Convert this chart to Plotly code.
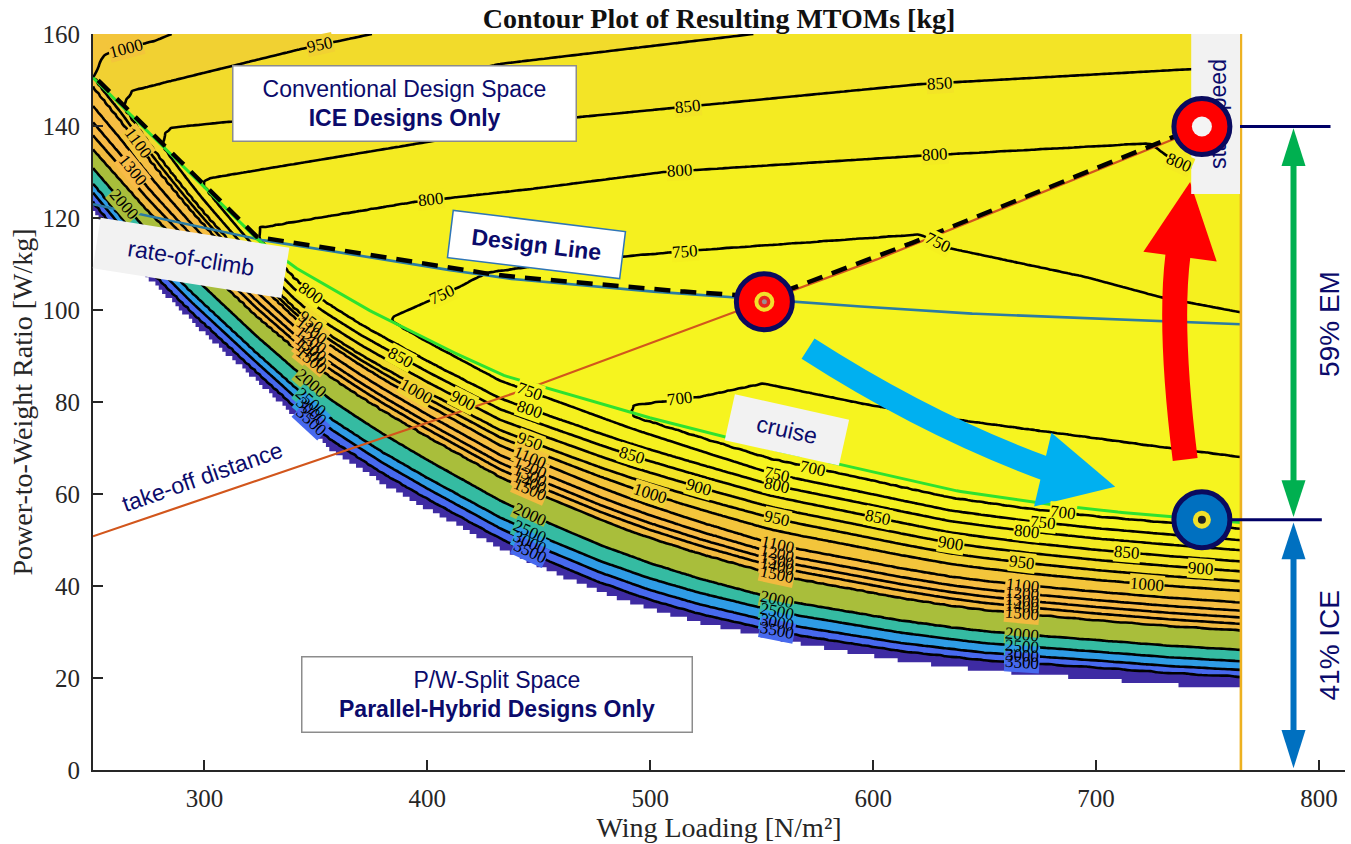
import numpy as np
import plotly.graph_objects as go

# ---------------- values ----------------
mtom_levels = [700, 750, 800, 850, 900, 950, 1000, 1100, 1200, 1300, 1400, 1500, 2000, 2500, 3000, 3500]
x_ticks = [300, 400, 500, 600, 700, 800]
y_ticks = [0, 20, 40, 60, 80, 100, 120, 140, 160]

# constraint lines (wing loading [N/m2] -> power-to-weight [W/kg])
cruise_ws = [244, 250, 275, 300, 323.6, 339.8, 370, 401.3, 432.7, 490, 550.7, 600, 634.6, 670, 701.9, 735, 765]
cruise_pw = [153.4, 150.5, 138.6, 126.7, 115.4, 109.5, 100.9, 93.2, 86.0, 77.8, 70.2, 64.8, 60.9, 58.3, 56.4, 55.0, 53.8]
climb_ws = [250, 290, 323.5, 380, 432.7, 485, 537.3, 634.6, 765]
climb_pw = [123.0, 118.8, 115.4, 110.9, 107.0, 104.6, 102.7, 99.4, 96.9]
takeoff_ws = [250, 446.1, 601.7, 734.6, 756]
takeoff_pw = [50.8, 83.1, 111.0, 137.1, 141.3]
stall_ws = 765

# lower edge of the evaluated design space
edge_ws = [250, 274, 294, 316, 334, 356, 380, 400, 432.7, 455, 477.5, 500, 522, 545, 567, 612, 650, 700, 733, 765]
edge_pw = [121.9, 107.5, 97.8, 88.0, 80.0, 70.0, 62.5, 57.0, 48.5, 43.5, 39.0, 35.3, 32.4, 30.0, 27.8, 24.2, 22.0, 20.2, 19.0, 18.2]

# MTOM found on the cruise line (minimum of each column)
valley_ws = [250, 263.5, 281, 299, 324.1, 383.3, 490.3, 550, 600, 700, 765]
valley_mtom = [1000, 950, 900, 850, 800, 750, 700, 682, 679, 677, 677]

# contours below the cruise line: share of the distance edge -> cruise line, read at three columns
frac_ws = [347, 555, 703]
frac_ref_mtom = [781, 682, 677]
frac_left = [1.06, 1.03, 0.894, 0.831, 0.769, 0.706, 0.680, 0.654, 0.591, 0.540, 0.500, 0.457, 0.311, 0.189, 0.126, 0.063]
frac_mid = [0.945, 0.870, 0.810, 0.750, 0.690, 0.633, 0.570, 0.495, 0.448, 0.410, 0.377, 0.337, 0.205, 0.140, 0.080, 0.035]
frac_right = [0.961, 0.892, 0.831, 0.762, 0.702, 0.641, 0.583, 0.511, 0.461, 0.420, 0.381, 0.343, 0.221, 0.152, 0.099, 0.061]

# contours above the cruise line
up700_ws = [490.3, 492.5, 522.4, 550.7, 597.3, 634.6, 728.8, 765]
up700_pw = [78.3, 79.4, 81.2, 84.1, 79.5, 76.4, 70.3, 68.1]
up750_ws = [383.3, 399.9, 413.4, 426.8, 446.1, 487.9, 525.5, 621.1, 633.2, 696.1, 728.8, 765]
up750_pw = [98.4, 101.9, 104.9, 108.2, 109.5, 111.7, 113.2, 116.5, 113.6, 107.1, 102.8, 99.5]
up800_ws = [324.1, 325.0, 393.6, 446.1, 505.8, 619.8, 724.3, 735.5, 765]
up800_pw = [116.5, 118.0, 123.5, 126.3, 130.0, 133.5, 136.3, 132.3, 127.3]
up850_ws = [299.0, 301.2, 467.2, 621.1, 736.4, 765]
up850_pw = [127.5, 128.6, 141.9, 149.1, 152.2, 152.8]
up900_ws = [281.0, 283.2, 312.9, 432.7, 555.0]
up900_pw = [136.5, 139.6, 141.0, 153.5, 160.5]
up950_ws = [263.5, 266.6, 343.0, 380.0]
up950_pw = [144.3, 147.6, 156.7, 160.5]
up1000_ws = [250.0, 255.4, 277.9, 288.0]
up1000_pw = [150.5, 155.6, 158.5, 160.5]

# where the contour labels sit (level, wing loading)
label_up_level = [1000, 950, 850, 850, 800, 800, 800, 800, 750, 750, 750, 700]
label_up_ws = [265, 352, 517, 630, 401.5, 513.5, 627.8, 737, 406.6, 515.8, 629, 513.5]
label_lo_level = ([800, 950, 1100, 1200, 1300, 1400, 1500, 2000, 2500, 3000, 3500]
                  + [750, 800, 950, 1100, 1200, 1300, 1400, 1500, 2000, 2500, 3000, 3500]
                  + [750, 800, 950, 1100, 1200, 1300, 1400, 1500, 2000, 2500, 3000, 3500]
                  + [950, 1100, 1200, 1300, 1400, 1500, 2000, 2500, 3000, 3500, 800, 750, 700]
                  + [850, 1000, 900, 850, 1000, 900, 700, 850, 900, 850, 1000, 900, 1100, 1300, 2000])
label_lo_ws = ([348] * 11 + [446] * 12 + [557] * 12 + [667] * 10 + [669, 676, 685]
               + [388, 395, 416, 492, 500, 522, 573, 602, 635, 714, 723, 747, 270, 268, 264])

design_point = (551.2, 101.8)
stall_point = (747.5, 139.9)
ice_point = (747.5, 54.4)

# fill colour of each band: below 700, then above each level
band_colors = ["#F6F41F", "#F6F41F", "#F5F01F", "#F4EB22", "#F3E426", "#F2DB2B", "#F1D132",
               "#F3C53B", "#F6BE42", "#F8BB46", "#F7BA45", "#F1BA3F", "#A9BE3B", "#35BBA2",
               "#2F9CE5", "#4769EE", "#3E2BA3"]

NAVY = "#0B0B6B"
SERIF = "Liberation Serif"
SANS = "Liberation Sans"

# ---------------- axes geometry ----------------
X0, X1 = 250, 811.7
Y0, Y1 = 0, 160
W, H = 1351, 844
ML, MR, MT, MB = 93, 6, 34, 74
SX = (W - ML - MR) / (X1 - X0)
SY = (H - MT - MB) / (Y1 - Y0)

# ---------------- build the MTOM field ----------------
upper = [(700, up700_ws, up700_pw), (750, up750_ws, up750_pw), (800, up800_ws, up800_pw),
         (850, up850_ws, up850_pw), (900, up900_ws, up900_pw), (950, up950_ws, up950_pw),
         (1000, up1000_ws, up1000_pw)]
i1500 = mtom_levels.index(1500)


def column(x):
    g = float(np.interp(x, cruise_ws, cruise_pw))
    b = float(np.interp(x, edge_ws, edge_pw))
    m = float(np.interp(x, valley_ws, valley_mtom))
    tA = [float(np.interp(x, frac_ws, [a, c, d])) for a, c, d in zip(frac_left, frac_mid, frac_right)]
    mref = float(np.interp(x, frac_ws, frac_ref_mtom))
    t15 = tA[i1500]
    if m > mref:
        zs = [mref] + [L for L in mtom_levels if L > mref]
        ts = [1.0] + [t for L, t in zip(mtom_levels, tA) if L > mref]
        tm = float(np.interp(m, zs, ts))
        tA = [t if (L >= 1500) else t15 + (t - t15) * (1 - t15) / (tm - t15)
              for L, t in zip(mtom_levels, tA)]
    kp, kz = [b], [4000.0]
    for L, t in sorted(zip(mtom_levels, tA), key=lambda q: -q[0]):
        if L > m + 0.5:
            p = b + t * (g - b)
            if kp[-1] + 1e-3 < p < g - 1e-3:
                kp.append(p)
                kz.append(float(L))
    kp.append(g)
    kz.append(m)
    gi = len(kp) - 1
    n_up = 0
    for L, xs, ys in upper:
        if L > m + 0.5 and xs[0] <= x <= xs[-1]:
            p = float(np.interp(x, xs, ys))
            if p > kp[-1] + 1e-3:
                kp.append(p)
                kz.append(float(L))
                n_up += 1
    slope = (kz[-1] - kz[-2]) / (kp[-1] - kp[-2]) if n_up >= 1 else 6.0
    kz.append(kz[-1] + slope * (200 - kp[-1]))
    kp.append(200.0)
    return kp, kz, gi


ws_grid = np.linspace(250, 765, 207)
pw_grid = np.arange(0, 160.001, 0.5)
Z = np.empty((len(pw_grid), len(ws_grid)))
for j, x in enumerate(ws_grid):
    kp, kz, gi = column(x)
    Z[:, j] = np.interp(pw_grid, kp, kz)

idx_levels = [600] + mtom_levels + [5000]
ZI = np.interp(Z, idx_levels, list(range(-1, len(mtom_levels) + 1))).astype(np.float32)

# stepped colour scale (band k spans index k-1..k)
nb = len(band_colors)
cs = []
for k, col in enumerate(band_colors):
    cs.append([k / nb, col])
    cs.append([(k + 1) / nb, col])

fig = go.Figure()
fig.add_trace(go.Contour(
    x=ws_grid, y=pw_grid, z=ZI, autocontour=False,
    contours=dict(start=0, end=len(mtom_levels) - 1, size=1, coloring="fill", showlines=True),
    line=dict(width=2.6, color="black"), colorscale=cs, zmin=-1, zmax=len(mtom_levels), zauto=False,
    showscale=False, hoverinfo="skip"))

# white mask under the evaluated space (stepped like the coarse grid)
mx = np.arange(248, 766.01, 1.5)
mq = np.floor(np.interp(mx, edge_ws, edge_pw) / 0.9) * 0.9
fig.add_trace(go.Scatter(
    x=list(mx) + [766, 248], y=list(mq) + [-3, -3], mode="lines", fill="toself",
    fillcolor="white", line=dict(width=0, shape="hv"), hoverinfo="skip"))

# constraint lines
fig.add_trace(go.Scatter(x=takeoff_ws, y=takeoff_pw, mode="lines",
                         line=dict(color="#D2561C", width=2.2), hoverinfo="skip"))
cx = np.linspace(250, 765, 300)
fig.add_trace(go.Scatter(x=cx, y=np.interp(cx, climb_ws, climb_pw), mode="lines",
                         line=dict(color="#2B7BA3", width=2.6), hoverinfo="skip"))
fig.add_trace(go.Scatter(x=cx, y=np.interp(cx, cruise_ws, cruise_pw), mode="lines",
                         line=dict(color="#2FE22F", width=3), hoverinfo="skip"))
fig.add_trace(go.Scatter(x=[stall_ws, stall_ws], y=[0, 160], mode="lines",
                         line=dict(color="#EDB120", width=2.6), hoverinfo="skip"))

# design line = upper envelope of the constraints
dxs = np.linspace(244, stall_point[0], 400)
env = np.maximum.reduce([np.interp(dxs, cruise_ws, cruise_pw),
                         np.interp(dxs, climb_ws, climb_pw),
                         np.interp(dxs, takeoff_ws, takeoff_pw)])
fig.add_trace(go.Scatter(x=dxs, y=env + 0.5, mode="lines", cliponaxis=False,
                         line=dict(color="black", width=4.5, dash="16px,10px"), hoverinfo="skip"))


# ---------------- contour labels ----------------
def level_pw(L, x, fam):
    kp, kz, gi = column(x)
    if fam == "lo":
        zz, pp = kz[:gi + 1][::-1], kp[:gi + 1][::-1]
    else:
        zz, pp = kz[gi:], kp[gi:]
    if not (min(zz) <= L <= max(zz)):
        return None
    return float(np.interp(L, zz, pp))


label_bg, label_fg = [], []


def add_label(L, x, fam):
    p = level_pw(L, x, fam)
    if p is None:
        return
    pa, pb = level_pw(L, x - 3, fam), level_pw(L, x + 3, fam)
    if pa is None or pb is None:
        ang = 0.0
    else:
        ang = -np.degrees(np.arctan2((pb - pa) * SY, 6 * SX))
    k = mtom_levels.index(L)
    bg = band_colors[k] if fam == "lo" else band_colors[k + 1]
    common = dict(x=x, y=p, text=str(L), textangle=float(ang), showarrow=False, borderpad=0)
    label_bg.append(dict(common, font=dict(family=SERIF, size=17, color=bg), bgcolor=bg))
    label_fg.append(dict(common, font=dict(family=SERIF, size=17, color="black")))


for L, x in zip(label_up_level, label_up_ws):
    add_label(L, x, "up")
for L, x in zip(label_lo_level, label_lo_ws):
    add_label(L, x, "lo")


# ---------------- decorations ----------------
def to_px(p):
    return p[0] * SX, p[1] * SY


def to_data(q):
    return q[0] / SX, q[1] / SY


def head_path(tip, base, half):
    tx, ty = to_px(tip)
    bx, by = to_px(base)
    ux, uy = tx - bx, ty - by
    n = np.hypot(ux, uy)
    nx, ny = -uy / n, ux / n
    a = to_data((bx + nx * half, by + ny * half))
    c = to_data((bx - nx * half, by - ny * half))
    return f"M {tip[0]},{tip[1]} L {a[0]},{a[1]} L {c[0]},{c[1]} Z"


shapes = []
shapes.append(dict(type="path", path="M 740.0,67.5 Q 732.6,96.1 736.8,112.1",
                   line=dict(color="#FF0000", width=25), layer="above"))
shapes.append(dict(type="path", path=head_path((742.2, 127.8), (737.7, 111.6), 37),
                   fillcolor="#FF0000", line=dict(width=0), layer="above"))
shapes.append(dict(type="path", path="M 570.8,91.6 Q 624.8,74.8 678.6,65.3",
                   line=dict(color="#00B0F0", width=24), layer="above"))
shapes.append(dict(type="path", path=head_path((708.6, 61.6), (676.1, 65.3), 38),
                   fillcolor="#00B0F0", line=dict(width=0), layer="above"))

ax_ws = 788.6
shapes.append(dict(type="line", x0=ax_ws, x1=ax_ws, y0=132.0, y1=62.0,
                   line=dict(color="#00B050", width=6), layer="above"))
shapes.append(dict(type="path", path=head_path((ax_ws, stall_point[1] - 0.4), (ax_ws, 131.3), 12),
                   fillcolor="#00B050", line=dict(width=0), layer="above"))
shapes.append(dict(type="path", path=head_path((ax_ws, ice_point[1] + 0.6), (ax_ws, 63.0), 12),
                   fillcolor="#00B050", line=dict(width=0), layer="above"))
shapes.append(dict(type="line", x0=ax_ws, x1=ax_ws, y0=47.0, y1=7.0,
                   line=dict(color="#0070C0", width=6), layer="above"))
shapes.append(dict(type="path", path=head_path((ax_ws, ice_point[1] - 0.6), (ax_ws, 45.8), 12),
                   fillcolor="#0070C0", line=dict(width=0), layer="above"))
shapes.append(dict(type="path", path=head_path((ax_ws, 0.4), (ax_ws, 8.7), 12),
                   fillcolor="#0070C0", line=dict(width=0), layer="above"))

shapes.append(dict(type="line", x0=stall_point[0], x1=805.2, y0=stall_point[1], y1=stall_point[1],
                   line=dict(color="#000066", width=3), layer="above"))
shapes.append(dict(type="line", x0=ice_point[0], x1=801.3, y0=ice_point[1], y1=ice_point[1],
                   line=dict(color="#000066", width=3), layer="above"))

shapes.append(dict(type="rect", x0=742.7, x1=764.6, y0=125.2, y1=160, fillcolor="#F2F2F2",
                   line=dict(width=0), layer="above",
                   label=dict(text="stall speed", textangle=-90, textposition="middle center",
                              font=dict(family=SANS, size=23, color=NAVY))))


def circ(pt, r, fill, lc=None, lw=0):
    return dict(type="circle", xref="x", yref="y", xsizemode="pixel", ysizemode="pixel",
                xanchor=pt[0], yanchor=pt[1], x0=-r, x1=r, y0=-r, y1=r, fillcolor=fill,
                line=dict(color=lc or fill, width=lw), layer="above")


shapes += [circ(design_point, 28, "#FF0000", "#0A0A5E", 5), circ(design_point, 10, "#F2E12A"),
           circ(design_point, 6, "#E8231E"), circ(design_point, 2.5, "#9A8F8F")]
shapes += [circ(stall_point, 28, "#FF0000", "#0A0A5E", 5), circ(stall_point, 10, "#F4F4F4")]
shapes += [circ(ice_point, 28, "#0070C0", "#0A0A5E", 5), circ(ice_point, 9, "#F2E12A"),
           circ(ice_point, 4, "#222222")]

annotations = label_bg + label_fg + [
    dict(x=389.7, y=144.8, text="Conventional Design Space<br><b>ICE Designs Only</b>",
         font=dict(family=SANS, size=23, color=NAVY), bgcolor="white", bordercolor="#8C8C8C",
         borderwidth=1.5, borderpad=2, width=338, height=70, showarrow=False),
    dict(x=431.3, y=16.4, text="P/W-Split Space<br><b>Parallel-Hybrid Designs Only</b>",
         font=dict(family=SANS, size=23, color=NAVY), bgcolor="white", bordercolor="#8C8C8C",
         borderwidth=1.5, borderpad=2, width=385, height=70, showarrow=False),
    dict(x=294.0, y=111.3, text="rate-of-climb", textangle=9,
         font=dict(family=SANS, size=23, color=NAVY), bgcolor="#F2F2F2",
         borderpad=2, width=186, height=46, showarrow=False),
    dict(x=448.8, y=114.3, text="<b>Design Line</b>", textangle=7,
         font=dict(family=SANS, size=23, color=NAVY), bgcolor="white", bordercolor="#2E75B6",
         borderwidth=1.5, borderpad=2, width=168, height=42, showarrow=False),
    dict(x=561.5, y=74.0, text="cruise", textangle=12.5,
         font=dict(family=SANS, size=23, color=NAVY), bgcolor="#F2F2F2",
         borderpad=2, width=112, height=42, showarrow=False),
    dict(x=298.8, y=63.8, text="take-off distance", textangle=-19.4,
         font=dict(family=SANS, size=23, color=NAVY), showarrow=False),
    dict(x=804.8, y=96.9, text="59% EM", textangle=-90,
         font=dict(family=SANS, size=28, color=NAVY), showarrow=False),
    dict(x=804.8, y=27.2, text="41% ICE", textangle=-90,
         font=dict(family=SANS, size=28, color=NAVY), showarrow=False),
]

axis_common = dict(showgrid=False, zeroline=False, showline=True, linecolor="#262626",
                   linewidth=2, ticks="inside", ticklen=10, tickwidth=2, tickcolor="#262626",
                   automargin=False, tickfont=dict(family=SERIF, size=25, color="#262626"))

fig.update_layout(
    width=W, height=H, margin=dict(l=ML, r=MR, t=MT, b=MB, autoexpand=False),
    paper_bgcolor="white", plot_bgcolor="white", showlegend=False,
    title=dict(text="<b>Contour Plot of Resulting MTOMs [kg]</b>", x=0.5, xref="paper",
               y=1 - 18 / H, yref="container", yanchor="middle", xanchor="center",
               font=dict(family=SERIF, size=28, color="#111111")),
    xaxis=dict(range=[X0, X1], tickvals=x_ticks, ticklabelstandoff=5,
               title=dict(text="Wing Loading [N/m²]", standoff=4,
                          font=dict(family=SERIF, size=28, color="#262626")), **axis_common),
    yaxis=dict(range=[Y0, Y1], tickvals=y_ticks, ticklabelstandoff=6,
               title=dict(text="Power-to-Weight Ratio [W/kg]", standoff=2,
                          font=dict(family=SERIF, size=28, color="#262626")), **axis_common),
    shapes=shapes, annotations=annotations,
)

fig.write_html("out.html", config={"displayModeBar": False},
               post_script="document.body.style.margin='0';document.body.style.padding='0';"
                           "document.body.style.overflow='hidden';")
